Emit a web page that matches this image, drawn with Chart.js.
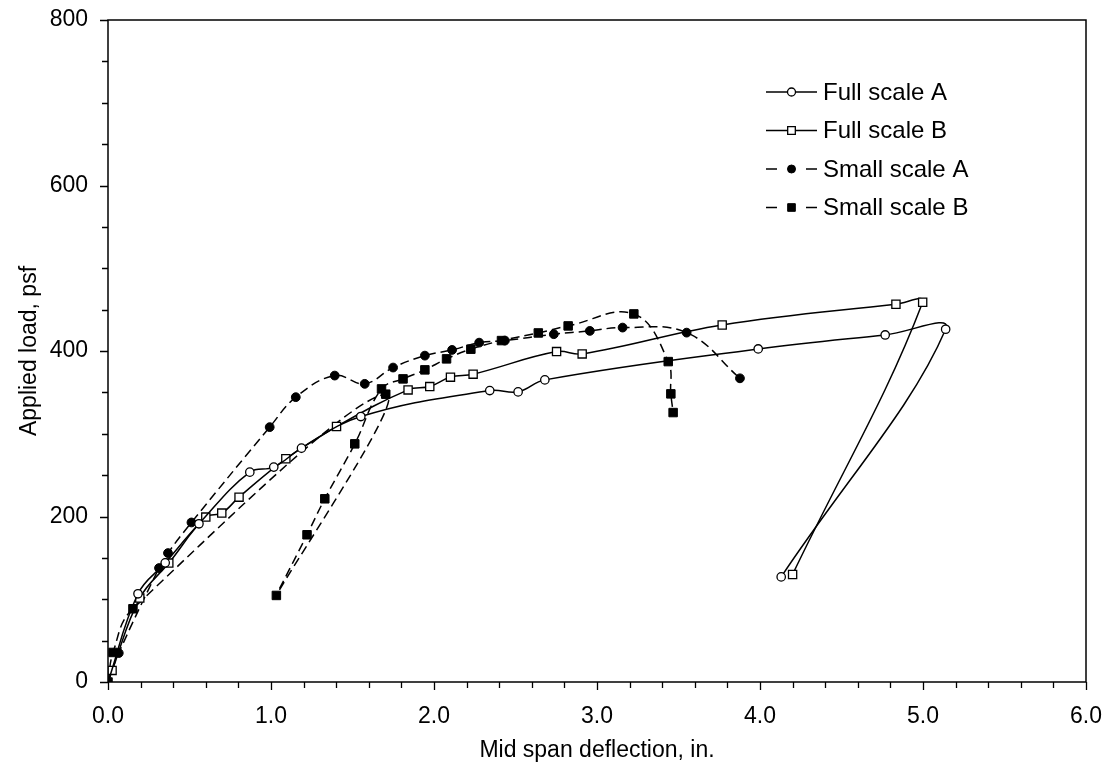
<!DOCTYPE html>
<html>
<head>
<meta charset="utf-8">
<script src="https://cdn.jsdelivr.net/npm/chart.js@4"></script>
<style>
  html, body { margin: 0; padding: 0; background: #fff; }
  #wrap { width: 1110px; height: 780px; position: relative; }
</style>
</head>
<body>
<div id="wrap"><canvas id="loadChart"></canvas></div>
<script>
// mid span deflection (in.) and applied load (psf)
const fullA_x = [0, 0.184, 0.351, 0.558, 0.870, 1.017, 1.187, 1.551, 2.342, 2.516, 2.680, 3.989, 4.768, 5.139, 4.130];
const fullA_y = [0, 106.6, 144.0, 191.2, 253.6, 259.7, 282.6, 320.8, 352.2, 350.6, 365.1, 402.5, 419.4, 426.3, 127];

const fullB_x = [0, 0.025, 0.195, 0.373, 0.600, 0.698, 0.804, 1.091, 1.402, 1.841, 1.974, 2.101, 2.240, 2.752, 2.909, 3.768, 4.834, 4.998, 4.200];
const fullB_y = [0, 14, 101.4, 143.7, 199.3, 204.1, 223.4, 269.7, 308.7, 353.0, 357.0, 368.4, 372.0, 399.3, 396.5, 431.5, 456.5, 459.0, 130];

const smallA_x = [0, 0.066, 0.313, 0.368, 0.512, 0.992, 1.152, 1.391, 1.575, 1.749, 1.944, 2.111, 2.277, 2.435, 2.735, 2.956, 3.157, 3.550, 3.877];
const smallA_y = [0, 35, 137.7, 155.8, 192.8, 308.0, 344.2, 370.3, 360.3, 380.0, 394.4, 401.3, 410.1, 412.6, 420.3, 424.3, 428.3, 422.2, 367.0];

const smallB_x = [0, 0.031, 0.153, 1.704, 1.033, 1.221, 1.330, 1.514, 1.678, 1.810, 1.944, 2.077, 2.226, 2.414, 2.640, 2.823, 3.226, 3.437, 3.453, 3.467];
const smallB_y = [0, 35.7, 88.5, 347.8, 104.6, 177.9, 221.4, 287.8, 354.2, 366.3, 377.2, 390.5, 402.2, 412.6, 421.8, 430.3, 444.8, 387.2, 348.2, 325.6];

const seriesNames = ["Full scale A", "Full scale B", "Small scale A", "Small scale B"];

const X_MIN = 0, X_MAX = 6, X_MAJOR = 1, X_MINOR = 0.2;
const Y_MIN = 0, Y_MAX = 800, Y_MAJOR = 200, Y_MINOR = 50;

const FONT = "'Liberation Sans', Arial, sans-serif";
const FONT_SIZE = 23;

function pts(xs, ys) {
    return xs.map((x, i) => ({ x: x, y: ys[i] }));
}

// hide the marker that sits under the filled square at the origin
const hideOrigin = (r) => (c) => c.dataIndex === 0 ? 0 : r;

const datasets = [
    {
        label: seriesNames[0], data: pts(fullA_x, fullA_y),
        borderColor: "#000", borderWidth: 1.5, borderDash: [],
        pointStyle: "circle", pointRadius: hideOrigin(4.2), pointBackgroundColor: "#fff",
        pointBorderColor: "#000", pointBorderWidth: 1.3
    },
    {
        label: seriesNames[1], data: pts(fullB_x, fullB_y),
        borderColor: "#000", borderWidth: 1.5, borderDash: [],
        pointStyle: "rect", pointRadius: hideOrigin(5.8), pointBackgroundColor: "#fff",
        pointBorderColor: "#000", pointBorderWidth: 1.3
    },
    {
        label: seriesNames[2], data: pts(smallA_x, smallA_y),
        borderColor: "#000", borderWidth: 1.5, borderDash: [9, 5],
        pointStyle: "circle", pointRadius: hideOrigin(4.4), pointBackgroundColor: "#000",
        pointBorderColor: "#000", pointBorderWidth: 1
    },
    {
        label: seriesNames[3], data: pts(smallB_x, smallB_y),
        borderColor: "#000", borderWidth: 1.5, borderDash: [9, 5],
        pointStyle: "rect", pointRadius: 6, pointBackgroundColor: "#000",
        pointBorderColor: "#000", pointBorderWidth: 1
    }
];

// frame, outward tick marks (major + minor) and the legend
const decorations = {
    id: "decorations",
    afterDraw(chart) {
        const ctx = chart.ctx;
        const a = chart.chartArea;
        const xs = chart.scales.x, ys = chart.scales.y;
        ctx.save();
        ctx.strokeStyle = "#000";
        ctx.lineWidth = 1.5;
        ctx.setLineDash([]);
        ctx.strokeRect(a.left, a.top, a.right - a.left, a.bottom - a.top);

        ctx.lineWidth = 1.3;
        ctx.beginPath();
        for (let v = X_MIN; v <= X_MAX + 1e-9; v += X_MINOR) {
            const major = Math.abs(v / X_MAJOR - Math.round(v / X_MAJOR)) < 1e-6;
            const px = Math.round(xs.getPixelForValue(v)) + 0.5;
            ctx.moveTo(px, a.bottom);
            ctx.lineTo(px, a.bottom + (major ? 8 : 6));
        }
        for (let v = Y_MIN; v <= Y_MAX; v += Y_MINOR) {
            const major = v % Y_MAJOR === 0;
            const py = Math.round(ys.getPixelForValue(v)) + 0.5;
            ctx.moveTo(a.left, py);
            ctx.lineTo(a.left - (major ? 8 : 6), py);
        }
        ctx.stroke();

        // legend
        const lx0 = 766, lx1 = 817, mx = 791.5, tx = 823;
        chart.data.datasets.forEach((ds, i) => {
            const y = 92 + i * 38.5;
            ctx.strokeStyle = "#000";
            ctx.lineWidth = 1.5;
            ctx.beginPath();
            if (ds.borderDash.length) {
                ctx.moveTo(lx0, y); ctx.lineTo(lx0 + 11, y);
                ctx.moveTo(lx1 - 11, y); ctx.lineTo(lx1, y);
            } else {
                ctx.moveTo(lx0, y); ctx.lineTo(lx1, y);
            }
            ctx.stroke();
            ctx.fillStyle = ds.pointBackgroundColor;
            ctx.lineWidth = ds.pointBorderWidth;
            Chart.helpers.drawPoint(ctx, {
                pointStyle: ds.pointStyle,
                radius: ds.pointStyle === "rect" ? 5.4 : 4,
                rotation: 0,
                borderWidth: ds.pointBorderWidth
            }, mx, y);
            ctx.fillStyle = "#000";
            ctx.font = "24px " + FONT;
            ctx.textAlign = "left";
            ctx.textBaseline = "middle";
            ctx.fillText(ds.label, tx, y + 1);
        });
        ctx.restore();
    }
};

const ctx = document.getElementById("loadChart").getContext("2d");

new Chart(ctx, {
    type: "scatter",
    data: { datasets: datasets },
    options: {
        responsive: true,
        maintainAspectRatio: false,
        animation: false,
        events: [],
        showLine: true,
        layout: { padding: { top: 20, right: 24, left: 0, bottom: 0 } },
        elements: { line: { tension: 0.4, fill: false } },
        plugins: { legend: { display: false }, tooltip: { enabled: false } },
        scales: {
            x: {
                type: "linear", min: X_MIN, max: X_MAX,
                afterFit: (s) => { s.height = 98; s.paddingLeft = 0; s.paddingRight = 0; },
                grid: { display: false, drawTicks: false },
                border: { display: false },
                ticks: {
                    stepSize: X_MAJOR, padding: 21, color: "#000",
                    font: { family: FONT, size: FONT_SIZE },
                    maxRotation: 0, autoSkip: false,
                    callback: (v) => v.toFixed(1)
                },
                title: {
                    display: true, text: "Mid span deflection, in.", color: "#000",
                    font: { family: FONT, size: FONT_SIZE }, padding: { top: 0, bottom: 16 }
                }
            },
            y: {
                type: "linear", min: Y_MIN, max: Y_MAX,
                afterFit: (s) => { s.width = 108; s.paddingTop = 0; s.paddingBottom = 0; },
                grid: { display: false, drawTicks: false },
                border: { display: false },
                ticks: {
                    stepSize: Y_MAJOR, padding: 20, color: "#000",
                    font: { family: FONT, size: FONT_SIZE },
                    callback: (v) => String(v)
                },
                title: {
                    display: true, text: "Applied load, psf", color: "#000",
                    font: { family: FONT, size: FONT_SIZE }, padding: { top: 16, bottom: 0 }
                }
            }
        }
    },
    plugins: [decorations]
});
</script>
</body>
</html>
